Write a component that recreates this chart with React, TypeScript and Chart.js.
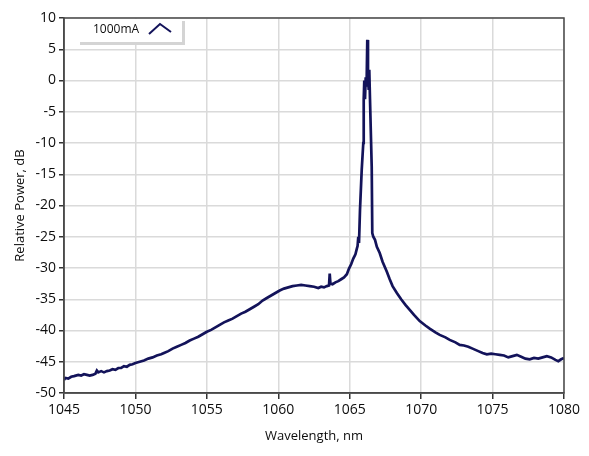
import React, { useEffect, useRef } from "react";
import { Chart, registerables } from "chart.js";

Chart.register(...registerables);

const seriesLabel = "1000mA";

const wavelength: number[] = [
  1045.0, 1045.1, 1045.3, 1045.5, 1045.7, 1046.0, 1046.2, 1046.4, 1046.6, 1046.8,
  1047.0, 1047.2, 1047.3, 1047.4, 1047.6, 1047.8, 1048.0, 1048.2, 1048.4, 1048.6,
  1048.8, 1049.0, 1049.2, 1049.4, 1049.6, 1049.8, 1050.0, 1050.3, 1050.6, 1050.9,
  1051.2, 1051.5, 1051.8, 1052.0, 1052.3, 1052.6, 1052.9, 1053.2, 1053.5, 1053.8,
  1054.1, 1054.4, 1054.7, 1055.0, 1055.3, 1055.6, 1055.9, 1056.2, 1056.5, 1056.8,
  1057.1, 1057.4, 1057.7, 1058.0, 1058.3, 1058.6, 1058.9, 1059.2, 1059.5, 1059.8,
  1060.1, 1060.4, 1060.7, 1061.0, 1061.3, 1061.6, 1061.9, 1062.2, 1062.5, 1062.8,
  1063.0, 1063.2, 1063.4, 1063.55, 1063.6, 1063.65, 1063.8, 1064.0, 1064.2, 1064.4,
  1064.6, 1064.8, 1064.95, 1065.1, 1065.25, 1065.4, 1065.5, 1065.55, 1065.6, 1065.65,
  1065.72, 1065.84, 1065.95, 1065.98, 1066.02, 1066.07, 1066.12, 1066.18, 1066.23, 1066.28,
  1066.33, 1066.37, 1066.42, 1066.54, 1066.58, 1066.65, 1066.77, 1066.9, 1067.1, 1067.3,
  1067.6, 1067.8, 1068.0, 1068.3, 1068.6, 1068.9, 1069.2, 1069.5, 1069.9, 1070.3,
  1070.6, 1071.0, 1071.3, 1071.7, 1072.0, 1072.4, 1072.7, 1073.0, 1073.3, 1073.6,
  1074.0, 1074.3, 1074.6, 1074.9, 1075.2, 1075.5, 1075.8, 1076.1, 1076.4, 1076.7,
  1077.0, 1077.3, 1077.6, 1077.9, 1078.2, 1078.5, 1078.8, 1079.1, 1079.4, 1079.6,
  1079.8, 1080.0,
];

const power: number[] = [
  -47.9, -47.6, -47.7, -47.4, -47.3, -47.1, -47.2, -47.0, -47.1, -47.2,
  -47.1, -46.9, -46.4, -46.7, -46.5, -46.7, -46.5, -46.4, -46.2, -46.3,
  -46.0, -46.0, -45.7, -45.8, -45.5, -45.4, -45.2, -45.0, -44.8, -44.5,
  -44.3, -44.0, -43.8, -43.6, -43.3, -42.9, -42.6, -42.3, -42.0, -41.6,
  -41.3, -41.0, -40.6, -40.2, -39.9, -39.5, -39.1, -38.7, -38.4, -38.1,
  -37.7, -37.3, -37.0, -36.6, -36.2, -35.8, -35.2, -34.8, -34.4, -34.0,
  -33.6, -33.3, -33.1, -32.9, -32.8, -32.7, -32.8, -32.9, -33.0, -33.2,
  -33.0, -33.1, -32.9, -32.8, -30.9, -32.5, -32.6, -32.3, -32.1, -31.8,
  -31.5, -31.0, -30.1, -29.4, -28.5, -27.8, -26.9, -26.5, -25.0, -26.0,
  -20.7, -14.3, -10.0, -3.0, 0.0, -3.0, 0.5, -1.0, 6.5, 0.5,
  -1.5, 1.7, -3.0, -13.8, -24.4, -25.0, -25.5, -26.6, -27.6, -29.0,
  -30.6, -31.8, -32.9, -34.0, -35.0, -35.9, -36.7, -37.5, -38.5, -39.2,
  -39.7, -40.3, -40.7, -41.1, -41.5, -41.9, -42.3, -42.4, -42.6, -42.9,
  -43.3, -43.6, -43.8, -43.7, -43.8, -43.9, -44.0, -44.3, -44.1, -43.9,
  -44.2, -44.5, -44.6, -44.4, -44.5, -44.3, -44.1, -44.3, -44.7, -44.9,
  -44.6, -44.4,
];

const xTicks: number[] = [1045, 1050, 1055, 1060, 1065, 1070, 1075, 1080];
const yTicks: number[] = [-50, -45, -40, -35, -30, -25, -20, -15, -10, -5, 0, 5, 10];

const LINE_COLOR = "#13135a";
const TEXT_COLOR = "#0d0d0d";
const FONT = "'Open Sans', 'Noto Sans', sans-serif";

const framePlugin = {
  id: "frameAndLegend",
  afterDraw(chart: any) {
    const { ctx, chartArea } = chart;
    const { left, top, right, bottom } = chartArea;
    ctx.save();
    ctx.strokeStyle = "#4a4a4a";
    ctx.lineWidth = 1.5;
    ctx.strokeRect(left, top, right - left, bottom - top);
    const bx = left + 16;
    const by = top + 1;
    const bw = 102;
    const bh = 23;
    ctx.fillStyle = "#ffffff";
    ctx.fillRect(bx, by, bw, bh);
    ctx.fillStyle = "#d4d4d4";
    ctx.fillRect(bx, by + bh, bw + 3, 3);
    ctx.fillRect(bx + bw, by + 2, 3, bh);
    ctx.fillStyle = TEXT_COLOR;
    ctx.font = `12px ${FONT}`;
    ctx.textBaseline = "middle";
    ctx.textAlign = "left";
    ctx.fillText(seriesLabel, bx + 13, by + 11);
    ctx.strokeStyle = LINE_COLOR;
    ctx.lineWidth = 2;
    ctx.beginPath();
    ctx.moveTo(bx + 69, by + 15);
    ctx.lineTo(bx + 80, by + 5);
    ctx.lineTo(bx + 91, by + 13);
    ctx.stroke();
    ctx.restore();
  },
};

export default function App() {
  const canvasRef = useRef<HTMLCanvasElement | null>(null);

  useEffect(() => {
    const canvas = canvasRef.current;
    if (!canvas) return;
    const data = wavelength.map((w, i) => ({ x: w, y: power[i] }));
    const chart = new Chart(canvas, {
      type: "line",
      data: {
        datasets: [
          {
            label: seriesLabel,
            data,
            borderColor: LINE_COLOR,
            borderWidth: 2.7,
            pointRadius: 0,
            tension: 0,
            fill: false,
          },
        ],
      },
      options: {
        animation: false,
        responsive: false,
        maintainAspectRatio: false,
        layout: { padding: { left: 0, right: 25, top: 18, bottom: 0 } },
        plugins: {
          legend: { display: false },
          tooltip: { enabled: false },
        },
        scales: {
          x: {
            type: "linear",
            min: 1045,
            max: 1080,
            afterBuildTicks: (scale: any) => {
              scale.ticks = xTicks.map((v) => ({ value: v }));
            },
            afterFit: (scale: any) => {
              scale.height = 63;
            },
            grid: {
              color: "#dadada",
              lineWidth: 1.5,
              tickColor: "#333",
              tickLength: 6,
              tickWidth: 1.5,
            },
            border: { color: "#4a4a4a", width: 1.5 },
            ticks: {
              color: TEXT_COLOR,
              font: { family: FONT, size: 14 },
              padding: 3,
              maxRotation: 0,
              autoSkip: false,
              callback: (v: any) => String(v),
            },
            title: {
              display: true,
              text: "Wavelength, nm",
              color: TEXT_COLOR,
              font: { family: FONT, size: 13 },
              padding: { top: 0, bottom: 12 },
            },
          },
          y: {
            min: -50,
            max: 10,
            afterBuildTicks: (scale: any) => {
              scale.ticks = yTicks.map((v) => ({ value: v }));
            },
            afterFit: (scale: any) => {
              scale.width = 64;
            },
            grid: {
              color: "#dadada",
              lineWidth: 1.5,
              tickColor: "#333",
              tickLength: 5,
              tickWidth: 1.5,
            },
            border: { color: "#4a4a4a", width: 1.5 },
            ticks: {
              color: TEXT_COLOR,
              font: { family: FONT, size: 14 },
              padding: 3,
              autoSkip: false,
              callback: (v: any) => String(v),
            },
            title: {
              display: true,
              text: "Relative Power, dB",
              color: TEXT_COLOR,
              font: { family: FONT, size: 13 },
              padding: { top: 12, bottom: 12 },
            },
          },
        },
      },
      plugins: [framePlugin],
    });
    return () => chart.destroy();
  }, []);

  return (
    <div style={{ position: "fixed", left: 0, top: 0, width: 589, height: 456, background: "#fff" }}>
      <canvas ref={canvasRef} width={589} height={456} style={{ width: 589, height: 456 }} />
    </div>
  );
}
